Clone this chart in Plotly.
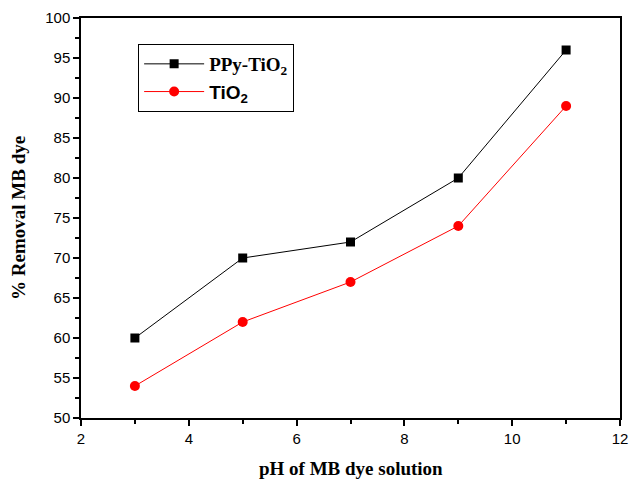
import plotly.graph_objects as go

ph = [3, 5, 7, 9, 11]
ppy_tio2 = [60, 70, 72, 80, 96]
tio2 = [54, 62, 67, 74, 89]

fig = go.Figure()
fig.add_trace(go.Scatter(
    x=ph, y=ppy_tio2, mode="lines+markers",
    name="<b>PPy-TiO<sub>2</sub></b>",
    line=dict(color="black", width=1),
    marker=dict(symbol="square", size=9, color="black"),
))
fig.add_trace(go.Scatter(
    x=ph, y=tio2, mode="lines+markers",
    name="<span style='font-family:Liberation Sans, Arial'><b>TiO<sub>2</sub></b></span>",
    line=dict(color="red", width=1),
    marker=dict(symbol="circle", size=10, color="red"),
))

axis_common = dict(
    showline=True, linecolor="black", linewidth=1.5, mirror=True,
    ticks="outside", ticklen=6, tickwidth=1.5, tickcolor="black",
    showgrid=False, zeroline=False, automargin=False,
    tickfont=dict(family="Liberation Sans, Arial", size=15, color="black"),
)

title_font = dict(family="Liberation Serif, Times New Roman", size=19, color="black")

fig.update_layout(
    width=630, height=479,
    margin=dict(l=81, r=10, t=18, b=61),
    paper_bgcolor="white", plot_bgcolor="white",
    showlegend=True,
    legend=dict(
        x=0.106, y=0.935, xanchor="left", yanchor="top",
        bordercolor="black", borderwidth=1, bgcolor="white",
        font=dict(family="Liberation Serif, Times New Roman", size=19, color="black"),
        itemwidth=60, tracegroupgap=0,
    ),
    xaxis=dict(
        range=[2, 12], dtick=2, tick0=2,
        minor=dict(dtick=1, ticklen=4, tickwidth=1.5, tickcolor="black", ticks="outside"),
        **axis_common,
    ),
    yaxis=dict(
        range=[50, 100], dtick=5, tick0=50,
        minor=dict(dtick=2.5, ticklen=4, tickwidth=1.5, tickcolor="black", ticks="outside"),
        **axis_common,
    ),
    annotations=[
        dict(text="<b>pH of MB dye solution</b>", xref="paper", yref="paper",
             x=0.5, y=-0.125, xanchor="center", yanchor="middle",
             showarrow=False, font=title_font),
        dict(text="<b>% Removal MB dye</b>", xref="paper", yref="paper",
             x=-0.117, y=0.5, xanchor="center", yanchor="middle", textangle=-90,
             showarrow=False, font=title_font),
    ],
)

fig.write_html("out.html")
